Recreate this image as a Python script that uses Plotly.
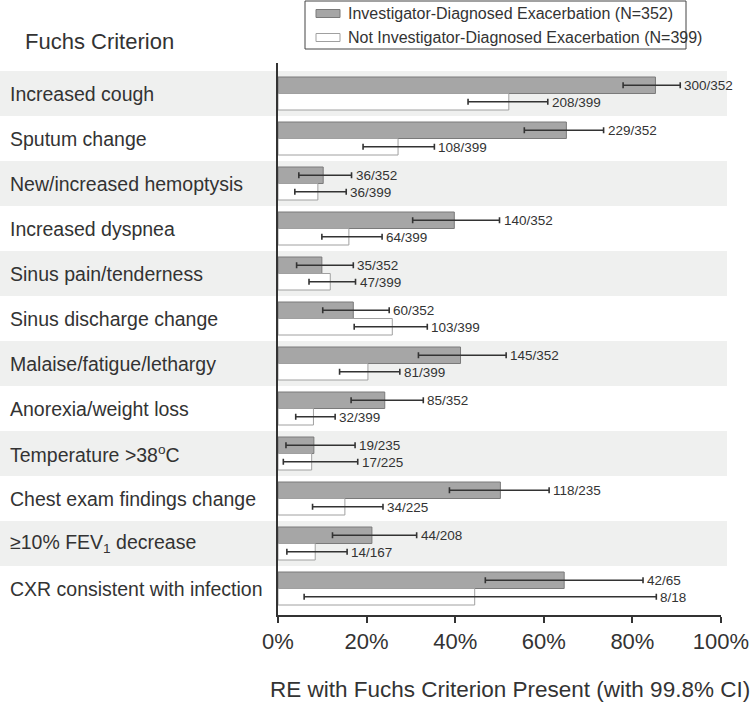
import plotly.graph_objects as go

# Fuchs criteria, top to bottom
categories = [
    "Increased cough",
    "Sputum change",
    "New/increased hemoptysis",
    "Increased dyspnea",
    "Sinus pain/tenderness",
    "Sinus discharge change",
    "Malaise/fatigue/lethargy",
    "Anorexia/weight loss",
    "Temperature &gt;38<sup>o</sup>C",
    "Chest exam findings change",
    "≥10% FEV<sub>1</sub> decrease",
    "CXR consistent with infection",
]

# Investigator-diagnosed exacerbation (%), with 99.8% CI
ide_pct = [85.2, 65.1, 10.2, 39.8, 9.9, 17.0, 41.2, 24.1, 8.1, 50.2, 21.2, 64.6]
ide_lo = [77.9, 55.6, 4.7, 30.4, 4.2, 10.1, 31.7, 16.5, 1.8, 38.7, 12.3, 46.8]
ide_hi = [90.8, 73.5, 16.6, 50.0, 17.0, 25.1, 51.5, 32.8, 17.4, 61.2, 31.3, 82.4]
ide_labels = ["300/352", "229/352", "36/352", "140/352", "35/352", "60/352",
              "145/352", "85/352", "19/235", "118/235", "44/208", "42/65"]

# Not investigator-diagnosed exacerbation (%), with 99.8% CI
nide_pct = [52.1, 27.1, 9.0, 16.0, 11.8, 25.8, 20.3, 8.0, 7.6, 15.1, 8.4, 44.4]
nide_lo = [42.9, 19.2, 3.8, 9.9, 7.0, 17.2, 13.9, 4.0, 1.2, 7.8, 2.0, 5.9]
nide_hi = [60.9, 35.3, 15.4, 23.5, 17.5, 33.7, 27.5, 12.9, 18.0, 23.7, 15.6, 85.4]
nide_labels = ["208/399", "108/399", "36/399", "64/399", "47/399", "103/399",
               "81/399", "32/399", "17/225", "34/225", "14/167", "8/18"]

legend_names = ["Investigator-Diagnosed Exacerbation (N=352)",
                "Not Investigator-Diagnosed Exacerbation (N=399)"]

x_ticks = [0, 20, 40, 60, 80, 100]

W, H = 750, 704
ML, MR, MT, MB = 278, 29, 63, 89
PW, PH = W - ML - MR, H - MT - MB

FONT = "Liberation Sans, Arial"
TXT = "#333"


def px(x):
    return (x - ML) / PW


def py(y):
    return (H - MB - y) / PH


def err(pct, lo, hi):
    return dict(type="data", symmetric=False,
                array=[h - p for p, h in zip(pct, hi)],
                arrayminus=[p - l for p, l in zip(pct, lo)],
                color="#333", thickness=1.6, width=3)


fig = go.Figure()
fig.add_trace(go.Bar(
    y=categories, x=ide_pct, orientation="h", name=legend_names[0],
    marker=dict(color="#a6a6a6", line=dict(color="#7a7a7a", width=1)),
    error_x=err(ide_pct, ide_lo, ide_hi)))
fig.add_trace(go.Bar(
    y=categories, x=nide_pct, orientation="h", name=legend_names[1],
    marker=dict(color="white", line=dict(color="#a0a0a0", width=1)),
    error_x=err(nide_pct, nide_lo, nide_hi)))

annotations = []
shapes = []
for i, cat in enumerate(categories):
    # alternating background bands
    if i % 2 == 0:
        shapes.append(dict(type="rect", xref="paper", yref="y", layer="below",
                           x0=px(0), x1=px(727), y0=i - 0.5, y1=i + 0.5,
                           fillcolor="#eff0ef", line=dict(width=0)))
    annotations.append(dict(xref="paper", yref="y", x=px(8), y=cat, text=cat,
                            xanchor="left", yanchor="middle", showarrow=False,
                            font=dict(family=FONT, size=19.5, color=TXT)))
    annotations.append(dict(xref="x", yref="y", x=ide_hi[i], y=cat, text=ide_labels[i],
                            xanchor="left", yanchor="middle", showarrow=False,
                            xshift=2, yshift=8.5,
                            font=dict(family=FONT, size=13.5, color=TXT)))
    annotations.append(dict(xref="x", yref="y", x=nide_hi[i], y=cat, text=nide_labels[i],
                            xanchor="left", yanchor="middle", showarrow=False,
                            xshift=2, yshift=-8.5,
                            font=dict(family=FONT, size=13.5, color=TXT)))

# header and axis title
annotations.append(dict(xref="paper", yref="paper", x=px(23), y=py(41), text="Fuchs Criterion",
                        xanchor="left", yanchor="middle", showarrow=False,
                        font=dict(family=FONT, size=22, color=TXT)))
annotations.append(dict(xref="paper", yref="paper", x=px(510), y=py(689),
                        text="RE with Fuchs Criterion Present (with 99.8% CI)",
                        xanchor="center", yanchor="middle", showarrow=False,
                        font=dict(family=FONT, size=22.5, color=TXT)))

# custom legend box
shapes.append(dict(type="rect", xref="paper", yref="paper", x0=px(305), x1=px(686),
                   y0=py(49), y1=py(1), line=dict(color="#444", width=1), fillcolor="white"))
for k, (fill, edge) in enumerate([("#a6a6a6", "#7a7a7a"), ("white", "#a0a0a0")]):
    yc = 13.5 + k * 24
    shapes.append(dict(type="rect", xref="paper", yref="paper", x0=px(316), x1=px(340),
                       y0=py(yc + 4), y1=py(yc - 4), fillcolor=fill, line=dict(color=edge, width=1)))
    annotations.append(dict(xref="paper", yref="paper", x=px(346), y=py(yc), text=legend_names[k],
                            xanchor="left", yanchor="middle", showarrow=False,
                            font=dict(family=FONT, size=16, color=TXT)))

fig.update_layout(
    width=W, height=H,
    margin=dict(l=ML, r=MR, t=MT, b=MB, autoexpand=False),
    paper_bgcolor="white", plot_bgcolor="rgba(0,0,0,0)",
    barmode="group", bargap=12 / 45, bargroupgap=0,
    showlegend=False,
    shapes=shapes, annotations=annotations,
)
fig.update_xaxes(range=[0, 100], tickmode="array", tickvals=x_ticks,
                 ticktext=[f"{v}%" for v in x_ticks],
                 ticks="outside", ticklen=6, tickwidth=1.5, tickcolor="#333",
                 showline=True, linecolor="#333", linewidth=1.5,
                 showgrid=False, zeroline=False, automargin=False,
                 tickfont=dict(family=FONT, size=22, color=TXT))
fig.update_yaxes(type="category", categoryarray=categories,
                 range=[11.5 + 4 / 45, -0.5 - 8 / 45],
                 showticklabels=False, ticks="", showgrid=False, zeroline=False,
                 automargin=False,
                 showline=True, linecolor="#333", linewidth=2)

fig.write_html("out.html", config={"displayModeBar": False},
               post_script="document.body.style.margin='0px';")
